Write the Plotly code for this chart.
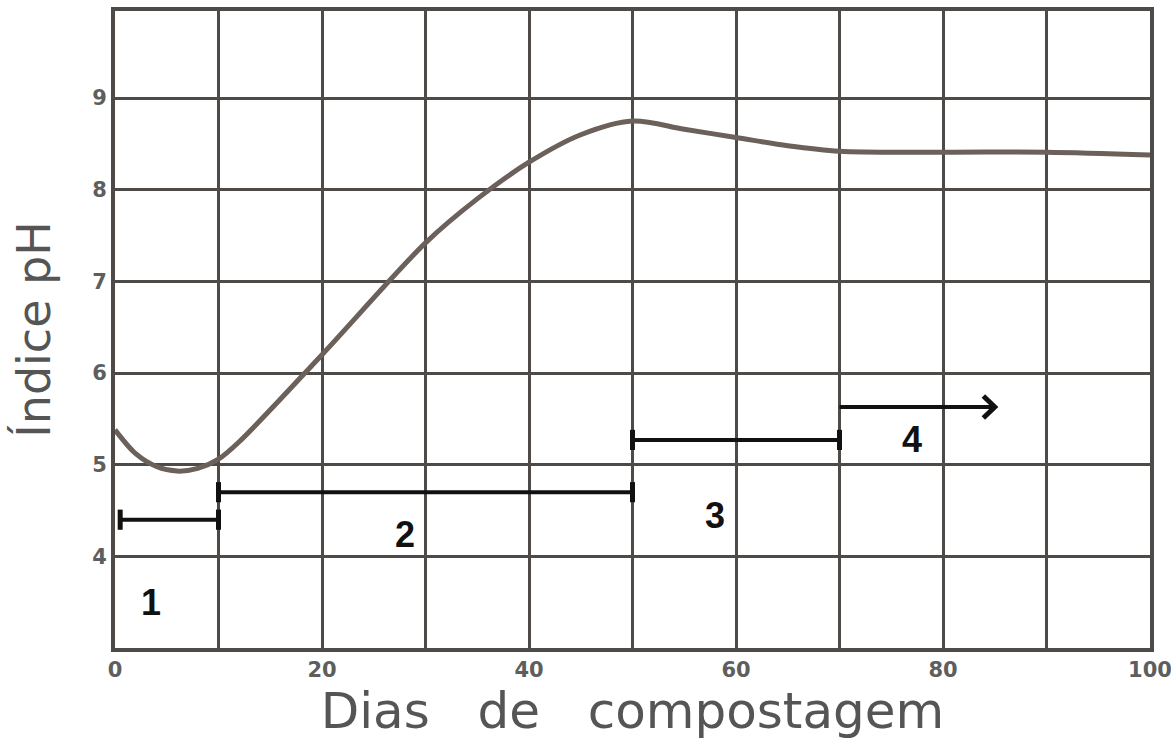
import plotly.graph_objects as go

# pH ao longo da compostagem
dias = [0, 2, 4, 6, 8, 10, 12, 20, 30, 35, 40, 45, 50, 55, 60, 65, 70, 80, 90, 100]
ph = [5.38, 5.12, 4.98, 4.93, 4.96, 5.06, 5.25, 6.2, 7.42, 7.9, 8.3, 8.6, 8.75, 8.66, 8.57, 8.48, 8.42, 8.41, 8.41, 8.38]

# Fases da compostagem (intervalos em dias)
fase_nome = ["1", "2", "3", "4"]
fase_inicio = [0.5, 10, 50, 70]
fase_fim = [10, 50, 70, 85]
fase_nivel = [4.4, 4.7, 5.27, 5.63]
rotulo_x = [3.5, 28, 58, 77]
rotulo_y = [3.5, 4.24, 4.45, 5.28]

x_ticks = list(range(0, 101, 10))
x_text = [str(v) if v % 20 == 0 else "" for v in x_ticks]
y_ticks = [3, 4, 5, 6, 7, 8, 9]
y_text = ["" if v == 3 else str(v) for v in y_ticks]

GRID = "#4d4a48"
CURVE = "#6b605a"
INK = "#111111"

fig = go.Figure()

fig.add_trace(go.Scatter(
    x=dias, y=ph, mode="lines",
    line=dict(color=CURVE, width=5, shape="spline", smoothing=0.9),
    hoverinfo="skip", showlegend=False,
))

# barras horizontais das fases
cap = 0.11
for i in range(len(fase_nome)):
    x0, x1, yv = fase_inicio[i], fase_fim[i], fase_nivel[i]
    fig.add_trace(go.Scatter(
        x=[x0, x1], y=[yv, yv], mode="lines",
        line=dict(color=INK, width=4), showlegend=False, hoverinfo="skip",
    ))
    if i < 3:
        for xc in (x0, x1):
            fig.add_trace(go.Scatter(
                x=[xc, xc], y=[yv - cap, yv + cap], mode="lines",
                line=dict(color=INK, width=5), showlegend=False, hoverinfo="skip",
            ))
    else:
        # ponta de seta aberta
        fig.add_trace(go.Scatter(
            x=[x1 - 1.1, x1, x1 - 1.1], y=[yv + 0.12, yv, yv - 0.12], mode="lines",
            line=dict(color=INK, width=5), showlegend=False, hoverinfo="skip",
        ))
    fig.add_annotation(
        x=rotulo_x[i], y=rotulo_y[i], text=f"<b>{fase_nome[i]}</b>",
        showarrow=False, font=dict(family="Liberation Sans, Arial", size=36, color=INK),
    )

axis_common = dict(
    showgrid=True, gridcolor=GRID, gridwidth=3,
    showline=True, linecolor=GRID, linewidth=4, mirror=True,
    zeroline=False, ticks="", automargin=False,
    tickfont=dict(family="DejaVu Sans", size=21, color="#5e5e5e", weight="bold"),
)

fig.update_xaxes(
    range=[0, 100], tickvals=x_ticks, ticktext=x_text,
    ticklabeloverflow="allow",
    title=dict(text="Dias&nbsp;&nbsp; de&nbsp;&nbsp; compostagem",
               font=dict(family="DejaVu Sans", size=50, color="#555555"),
               standoff=10),
    **axis_common,
)
fig.update_yaxes(
    range=[3, 9.95], tickvals=y_ticks, ticktext=y_text,
    title=dict(text="Índice pH",
               font=dict(family="DejaVu Sans", size=46, color="#555555"),
               standoff=28),
    **axis_common,
)

fig.update_layout(
    width=1171, height=750,
    margin=dict(l=115, r=21, t=11, b=102),
    plot_bgcolor="white", paper_bgcolor="white",
    showlegend=False,
)

fig.write_html("out.html")
